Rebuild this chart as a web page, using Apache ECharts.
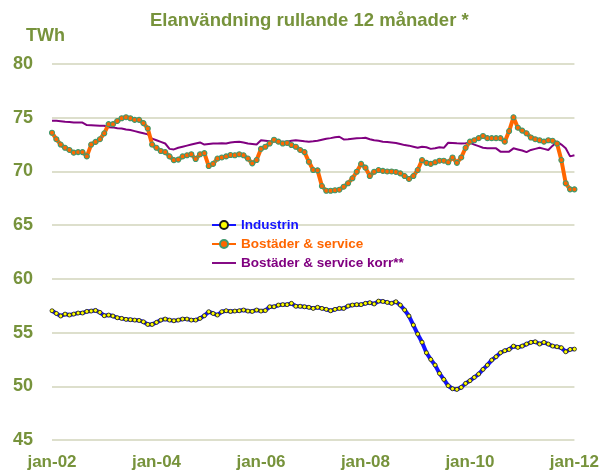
<!DOCTYPE html>
<html>
<head>
<meta charset="utf-8">
<script src="https://cdn.jsdelivr.net/npm/echarts@6/dist/echarts.min.js"></script>
<style>
  html, body { margin: 0; padding: 0; background: #fff; }
  #chart { width: 602px; height: 474px; }
</style>
</head>
<body>
<div id="chart"></div>
<script>
// månader jan-02 .. jan-12
const monthNames = ['jan', 'feb', 'mar', 'apr', 'maj', 'jun', 'jul', 'aug', 'sep', 'okt', 'nov', 'dec'];
const months = [];
for (let y = 2; y <= 12; y++) {
  for (let m = 0; m < 12; m++) {
    if (y === 12 && m > 0) break;
    months.push(monthNames[m] + '-' + String(y).padStart(2, '0'));
  }
}

const yTicks = [45, 50, 55, 60, 65, 70, 75, 80];

// TWh, rullande 12 månader
const industrin = [
  57.03, 56.78, 56.54, 56.72, 56.63, 56.72, 56.82, 56.82, 56.97, 57.0,
  57.06, 56.88, 56.57, 56.63, 56.54, 56.38, 56.32, 56.23, 56.2, 56.16,
  56.13, 56.0, 55.76, 55.76, 55.95, 56.16, 56.26, 56.16, 56.1, 56.16,
  56.26, 56.26, 56.16, 56.16, 56.32, 56.57, 56.94, 56.78, 56.63, 56.94,
  57.03, 56.97, 57.0, 57.03, 57.1, 57.0, 56.97, 57.1, 57.0, 57.05,
  57.4, 57.4, 57.56, 57.6, 57.6, 57.72, 57.45, 57.45, 57.4, 57.35,
  57.25, 57.35, 57.25, 57.16, 57.03, 57.16, 57.25, 57.25, 57.47, 57.56,
  57.6, 57.6, 57.72, 57.78, 57.66, 57.93, 57.9, 57.81, 57.72, 57.87,
  57.56, 57.1, 56.54, 55.7, 54.86, 54.1, 53.12, 52.5, 51.97, 51.2,
  50.64, 50.05, 49.77, 49.71, 49.9, 50.27, 50.52, 50.83, 51.14, 51.57,
  51.97, 52.44, 52.75, 53.12, 53.31, 53.43, 53.74, 53.62, 53.74, 53.93,
  54.09, 54.14, 53.93, 54.09, 53.93, 53.74, 53.68, 53.59, 53.21, 53.43,
  53.46
];

const bostader = [
  73.6, 73.0, 72.5, 72.2, 72.0, 71.75, 71.8, 71.8, 71.4, 72.5,
  72.75, 73.0, 73.55, 74.4, 74.4, 74.7, 74.95, 75.05, 74.95, 74.8,
  74.8, 74.5, 74.0, 72.5, 72.2, 71.9, 71.8, 71.4, 71.05, 71.1,
  71.4, 71.5, 71.6, 71.15, 71.6, 71.7, 70.5, 70.7, 71.2, 71.3,
  71.4, 71.53, 71.5, 71.6, 71.5, 71.2, 70.75, 71.06, 72.1, 72.3,
  72.6, 72.95, 72.77, 72.6, 72.65, 72.46, 72.3, 72.0, 71.8, 70.9,
  70.13, 70.1, 68.64, 68.2, 68.2, 68.25, 68.3, 68.58, 68.9, 69.36,
  69.97, 70.7, 70.35, 69.57, 69.97, 70.13, 70.05, 70.0, 70.0, 69.95,
  69.82, 69.57, 69.3, 69.57, 70.13, 71.06, 70.8, 70.7, 70.85, 71.0,
  71.0, 70.85, 71.3, 70.8, 71.3, 72.2, 72.77, 72.9, 73.1, 73.3,
  73.1, 73.1, 73.1, 73.1, 72.77, 73.76, 75.04, 74.07, 73.8, 73.55,
  73.16, 73.0, 72.9, 72.77, 72.9, 72.85, 72.6, 71.06, 68.9, 68.33,
  68.33
];

const bostaderKorr = [
  74.72, 74.72, 74.68, 74.62, 74.6, 74.55, 74.55, 74.55, 74.32, 74.3,
  74.28, 74.25, 74.25, 74.12, 74.1, 74.02, 74.0, 73.9, 73.85, 73.75,
  73.65, 73.55, 73.45, 73.05, 72.9, 72.75, 72.6, 72.1, 72.05, 72.2,
  72.3, 72.4, 72.5, 72.6, 72.7, 72.5, 72.55, 72.6, 72.6, 72.62,
  72.6, 72.7, 72.75, 72.77, 72.7, 72.6, 72.55, 72.5, 72.9, 72.85,
  72.8, 72.8, 72.75, 72.77, 72.77, 72.85, 72.9, 72.85, 72.8, 72.77,
  72.8, 72.85, 72.95, 73.05, 73.1, 73.18, 73.23, 72.98, 73.0, 73.05,
  73.08, 73.1, 73.14, 73.0, 72.9, 72.85, 72.77, 72.75, 72.7, 72.65,
  72.55, 72.45, 72.4, 72.3, 72.2, 72.3, 72.25, 72.1, 72.15, 72.25,
  72.2, 72.67, 72.65, 72.62, 72.6, 72.62, 72.67, 72.5, 72.35, 72.2,
  72.15, 72.15, 72.15, 71.84, 71.84, 71.84, 72.15, 72.05, 71.95, 71.8,
  72.0, 72.1, 72.2, 72.1, 72.0, 72.4, 72.77, 72.5, 72.15, 71.4,
  71.5
];

const green = '#77933c';
const blue = '#1414ff';
const orange = '#ff6600';
const purple = '#800080';
const font = '"Liberation Sans", Arial, sans-serif';

const chart = echarts.init(document.getElementById('chart'), null, { renderer: 'canvas' });

const legendText = (color) => ({ color: color, fontSize: 13.5, fontWeight: 'bold', fontFamily: font });

const option = {
  backgroundColor: '#fff',
  animation: false,
  title: [{
    text: 'Elanvändning rullande 12 månader *',
    left: 150,
    top: 11,
    padding: 0,
    textStyle: { color: green, fontSize: 18.5, fontWeight: 'bold', fontFamily: font }
  }, {
    text: 'TWh',
    left: 26,
    top: 27,
    padding: 0,
    textStyle: { color: green, fontSize: 18, fontWeight: 'bold', fontFamily: font }
  }],
  legend: {
    orient: 'vertical',
    left: 211,
    top: 218,
    padding: 0,
    itemWidth: 24,
    itemHeight: 10,
    itemGap: 5,
    data: [
      { name: 'Industrin', textStyle: legendText(blue) },
      { name: 'Bostäder & service', textStyle: legendText(orange) },
      {
        name: 'Bostäder & service korr**',
        icon: 'path://M0,0L25,0L25,2L0,2Z',
        itemStyle: { color: purple },
        textStyle: legendText(purple)
      }
    ]
  },
  grid: { left: 52, right: 26, top: 64, bottom: 34 },
  xAxis: {
    type: 'category',
    boundaryGap: false,
    data: months,
    axisLine: { show: false },
    axisTick: { show: false },
    axisLabel: {
      interval: 23,
      color: green,
      fontSize: 17,
      fontWeight: 'bold',
      fontFamily: font,
      margin: 14
    },
    splitLine: { show: false }
  },
  yAxis: {
    type: 'value',
    min: yTicks[0],
    max: yTicks[yTicks.length - 1],
    interval: 5,
    axisLine: { show: false },
    axisTick: { show: false },
    axisLabel: {
      color: green,
      fontSize: 18,
      fontWeight: 'bold',
      fontFamily: font,
      margin: 19
    },
    splitLine: { lineStyle: { color: '#d2d5bb', width: 1.5 } }
  },
  series: [{
    name: 'Industrin',
    type: 'line',
    data: industrin,
    z: 3,
    showAllSymbol: true,
    symbol: 'circle',
    symbolSize: 4,
    lineStyle: { color: blue, width: 4 },
    itemStyle: { color: '#ffff00', borderColor: '#1a1a1a', borderWidth: 0.8 }
  }, {
    name: 'Bostäder & service',
    type: 'line',
    data: bostader,
    z: 3,
    showAllSymbol: true,
    symbol: 'circle',
    symbolSize: 5,
    lineStyle: { color: orange, width: 4 },
    itemStyle: { color: orange, borderColor: '#3f9a6e', borderWidth: 1.1 }
  }, {
    name: 'Bostäder & service korr**',
    type: 'line',
    data: bostaderKorr,
    z: 2,
    symbol: 'none',
    lineStyle: { color: purple, width: 2 },
    itemStyle: { color: purple }
  }]
};

chart.setOption(option);
</script>
</body>
</html>
